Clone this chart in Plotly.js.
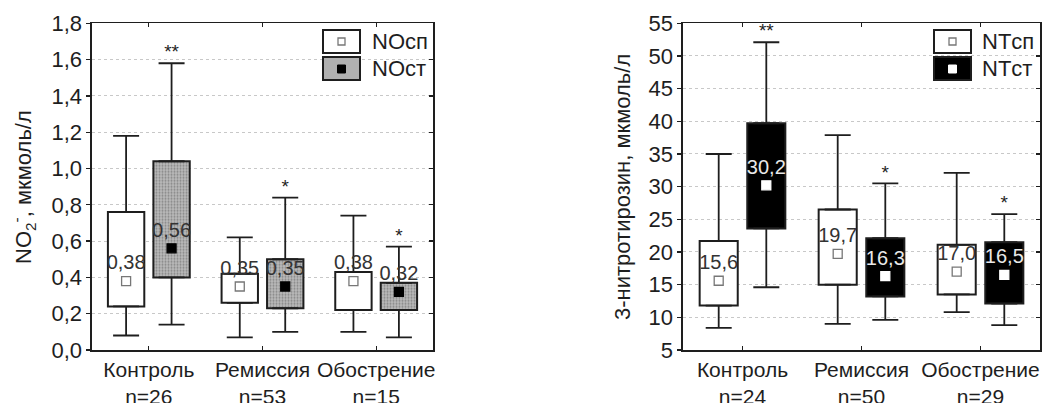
<!DOCTYPE html>
<html>
<head>
<meta charset="utf-8">
<script src="https://cdn.plot.ly/plotly-3.0.1.min.js"></script>
<style>html,body{margin:0;padding:0;background:#fff;}#chart{width:1042px;height:403px;}</style>
</head>
<body>
<div id="chart"></div>
<script>
// ---- data ----
const categories = ['Контроль', 'Ремиссия', 'Обострение'];
const nLeft = [26, 53, 15];
const nRight = [24, 50, 29];

// NO2- (мкмоль/л), сп
const noSpMin = [0.08, 0.07, 0.10];
const noSpQ1  = [0.24, 0.26, 0.22];
const noSpMed = [0.38, 0.35, 0.38];
const noSpQ3  = [0.76, 0.42, 0.43];
const noSpMax = [1.18, 0.62, 0.74];
// NO2- , ст
const noStMin = [0.14, 0.10, 0.07];
const noStQ1  = [0.40, 0.23, 0.22];
const noStMed = [0.56, 0.35, 0.32];
const noStQ3  = [1.04, 0.50, 0.37];
const noStMax = [1.58, 0.84, 0.57];
const noStars = ['**', '*', '*'];

// 3-нитротирозин (мкмоль/л), сп
const ntSpMin = [8.4, 9.0, 10.8];
const ntSpQ1  = [11.8, 15.0, 13.5];
const ntSpMed = [15.6, 19.7, 17.0];
const ntSpQ3  = [21.7, 26.5, 21.1];
const ntSpMax = [35.0, 37.9, 32.1];
// 3-нитротирозин, ст
const ntStMin = [14.6, 9.6, 8.8];
const ntStQ1  = [23.6, 13.2, 12.1];
const ntStMed = [30.2, 16.3, 16.5];
const ntStQ3  = [39.7, 22.1, 21.5];
const ntStMax = [52.1, 30.5, 25.8];
const ntStars = ['**', '*', '*'];

// ---- styling ----
const FONT = 'Liberation Sans, Arial, sans-serif';
const INK = '#1e1e1e';
const OFF = 0.2, BW = 0.32;
const idx = categories.map((c, i) => i);
const fmt = (v, d) => v.toFixed(d).replace('.', ',');

function boxSet(xa, ya, off, mn, q1, med, q3, mx, dec, style) {
  const xs = idx.map(i => i + off);
  const out = [];
  out.push({
    type: 'bar', xaxis: xa, yaxis: ya, x: xs, base: q1,
    y: q3.map((v, i) => v - q1[i]), width: BW, showlegend: false, hoverinfo: 'skip',
    marker: Object.assign({ color: style.fill, line: { color: INK, width: 2 } },
      style.pattern ? { pattern: style.pattern } : {})
  });
  const eb = (plus, minus) => ({
    type: 'data', symmetric: false, array: plus, arrayminus: minus,
    color: INK, thickness: 1.8, width: 13
  });
  out.push({
    type: 'scatter', mode: 'markers', xaxis: xa, yaxis: ya, x: xs, y: q1,
    marker: { color: 'rgba(0,0,0,0)', size: 1 }, showlegend: false, hoverinfo: 'skip',
    error_y: eb(q1.map(() => 0), q1.map((v, i) => v - mn[i]))
  });
  out.push({
    type: 'scatter', mode: 'markers', xaxis: xa, yaxis: ya, x: xs, y: q3,
    marker: { color: 'rgba(0,0,0,0)', size: 1 }, showlegend: false, hoverinfo: 'skip',
    error_y: eb(mx.map((v, i) => v - q3[i]), q3.map(() => 0))
  });
  out.push({
    type: 'scatter', mode: 'markers+text', xaxis: xa, yaxis: ya, x: xs, y: med,
    text: med.map(v => fmt(v, dec)), textposition: 'top center',
    textfont: { family: FONT, size: 20, color: style.textColor },
    marker: { symbol: 'square', size: style.msize, color: style.mcolor, line: { color: style.mline, width: 1.3 } },
    showlegend: false, hoverinfo: 'skip'
  });
  return out;
}

function stars(xa, ya, mx, txt) {
  return {
    type: 'scatter', mode: 'text', xaxis: xa, yaxis: ya,
    x: idx.map(i => i + OFF), y: mx, text: txt, textposition: 'top center',
    textfont: { family: FONT, size: 19, color: INK }, showlegend: false, hoverinfo: 'skip'
  };
}

const spStyle = { fill: '#ffffff', textColor: '#333333', msize: 9, mcolor: '#ffffff', mline: '#777777' };
const noStStyle = { fill: '#b0b0b0', pattern: { shape: '.', fgcolor: '#858585', bgcolor: '#bababa', size: 3, solidity: 0.35 },
  textColor: '#333333', msize: 9, mcolor: '#000000', mline: '#000000' };
const ntStStyle = { fill: '#000000', textColor: '#e8e8e8', msize: 9, mcolor: '#ffffff', mline: '#ffffff' };

let data = [];
data = data.concat(boxSet('x', 'y', -OFF, noSpMin, noSpQ1, noSpMed, noSpQ3, noSpMax, 2, spStyle));
data = data.concat(boxSet('x', 'y', OFF, noStMin, noStQ1, noStMed, noStQ3, noStMax, 2, noStStyle));
data.push(stars('x', 'y', noStMax, noStars));
data = data.concat(boxSet('x2', 'y2', -OFF, ntSpMin, ntSpQ1, ntSpMed, ntSpQ3, ntSpMax, 1, spStyle));
data = data.concat(boxSet('x2', 'y2', OFF, ntStMin, ntStQ1, ntStMed, ntStQ3, ntStMax, 1, ntStStyle));
data.push(stars('x2', 'y2', ntStMax, ntStars));
// invisible anchors for the right-side tick axes
data.push({ type: 'scatter', mode: 'none', xaxis: 'x', yaxis: 'y3', x: [0], y: [0.9], showlegend: false, hoverinfo: 'skip' });
data.push({ type: 'scatter', mode: 'none', xaxis: 'x2', yaxis: 'y4', x: [0], y: [30], showlegend: false, hoverinfo: 'skip' });

const yDom = [1 - 350 / 403, 1 - 23.3 / 403];
const xDomL = [92 / 1042, 433 / 1042];
const xDomR = [683 / 1042, 1040 / 1042];

function xAxis(dom, ns) {
  return {
    domain: dom, range: [-0.5, 2.5], tickmode: 'array', tickvals: idx,
    ticktext: categories.map((c, i) => c + '<br>n=' + ns[i]),
    ticks: 'inside', ticklen: 4, tickwidth: 1.3, tickcolor: INK,
    showline: true, linecolor: INK, linewidth: 1.6, mirror: 'ticks',
    showgrid: false, zeroline: false, fixedrange: true, ticklabelstandoff: 0,
    tickfont: { family: FONT, size: 21, color: INK }, automargin: false
  };
}
function yAxis(dom, anchor, range, dtick, tf) {
  return {
    domain: dom, anchor: anchor, range: range, dtick: dtick, tick0: range[0], tickformat: tf,
    ticks: 'outside', ticklen: 4, tickwidth: 1.3, tickcolor: INK,
    showline: true, linecolor: INK, linewidth: 1.6, mirror: true,
    showgrid: true, gridcolor: '#c8c8c8', griddash: 'dot', gridwidth: 1,
    zeroline: false, fixedrange: true,
    tickfont: { family: FONT, size: 22, color: INK }, automargin: false
  };
}
function yRight(over, anchor, range, dtick) {
  return {
    overlaying: over, anchor: anchor, side: 'right', range: range, dtick: dtick, tick0: range[0],
    ticks: 'inside', ticklen: 4, tickwidth: 1.3, tickcolor: INK, showticklabels: false,
    showline: false, showgrid: false, zeroline: false, fixedrange: true
  };
}

function legendShapes(x0, x1, yTop, fill2, inner1, inner2) {
  const px = v => v / 1042, py = v => 1 - v / 403;
  const cx = (x0 + x1) / 2;
  return [
    { type: 'rect', xref: 'paper', yref: 'paper', x0: px(x0), x1: px(x1), y0: py(yTop + 23), y1: py(yTop), fillcolor: '#ffffff', line: { color: INK, width: 2 } },
    { type: 'rect', xref: 'paper', yref: 'paper', x0: px(cx - 3.5), x1: px(cx + 3.5), y0: py(yTop + 15), y1: py(yTop + 8), fillcolor: '#ffffff', line: { color: '#777', width: 1.3 } },
    { type: 'rect', xref: 'paper', yref: 'paper', x0: px(x0), x1: px(x1), y0: py(yTop + 50), y1: py(yTop + 27), fillcolor: fill2, line: { color: INK, width: 2 } },
    { type: 'rect', xref: 'paper', yref: 'paper', x0: px(cx - 4), x1: px(cx + 4), y0: py(yTop + 43), y1: py(yTop + 35), fillcolor: inner2, line: { color: inner2, width: 1 } }
  ];
}

const ann = (x, y, text, opts) => Object.assign({
  xref: 'paper', yref: 'paper', x: x / 1042, y: 1 - y / 403, text: text, showarrow: false,
  xanchor: 'center', yanchor: 'middle',
  font: { family: FONT, size: 22, color: INK }
}, opts || {});

const layout = {
  width: 1042, height: 403, margin: { l: 0, r: 0, t: 0, b: 0 },
  paper_bgcolor: '#ffffff', plot_bgcolor: '#ffffff',
  separators: ', ', barmode: 'overlay', showlegend: false,
  xaxis: xAxis(xDomL, nLeft),
  yaxis: yAxis(yDom, 'x', [0, 1.8], 0.2, '.1f'),
  xaxis2: xAxis(xDomR, nRight),
  yaxis2: yAxis(yDom, 'x2', [5, 55], 5, 'd'),
  yaxis3: yRight('y', 'x', [0, 1.8], 0.2),
  yaxis4: yRight('y2', 'x2', [5, 55], 5),
  shapes: legendShapes(323, 360, 30, '#b0b0b0', '#ffffff', '#000000')
    .concat(legendShapes(934, 971, 30, '#000000', '#ffffff', '#ffffff')),
  annotations: [
    ann(23, 187, 'NO<sub>2</sub><sup>-</sup>, мкмоль/л', { textangle: -90 }),
    ann(622, 187, '3-нитротирозин, мкмоль/л', { textangle: -90 }),
    ann(370, 42, 'NOсп', { xanchor: 'left' }),
    ann(370, 69, 'NOст', { xanchor: 'left' }),
    ann(980, 42, 'NTсп', { xanchor: 'left' }),
    ann(980, 69, 'NTст', { xanchor: 'left' })
  ]
};

Plotly.newPlot('chart', data, layout, { staticPlot: true, displayModeBar: false });
</script>
</body>
</html>
